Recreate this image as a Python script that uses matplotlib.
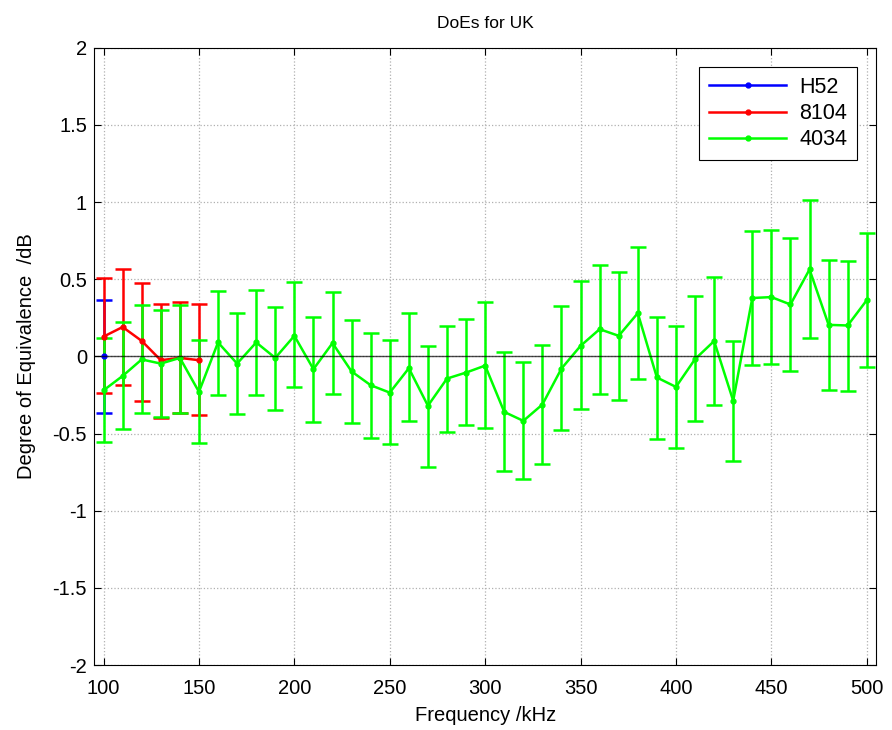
import matplotlib
matplotlib.use("Agg")
import matplotlib.pyplot as plt
from matplotlib.lines import Line2D
import numpy as np

plt.rcParams['font.family'] = ['Liberation Sans', 'DejaVu Sans']

# H52
f_h52 = [100]
d_h52 = [0.0]
u_h52 = [0.365]

# 8104
f_8104 = [100, 110, 120, 130, 140, 150]
d_8104 = [0.128, 0.19, 0.10, -0.025, -0.01, -0.025]
hi_8104 = [0.505, 0.565, 0.474, 0.34, 0.35, 0.34]
lo_8104 = [-0.24, -0.185, -0.29, -0.40, -0.37, -0.383]

# 4034
f_4034 = list(range(100, 501, 10))
d_4034 = [-0.22, -0.127, -0.02, -0.047, -0.01, -0.23, 0.09, -0.047, 0.09, -0.01,
          0.133, -0.083, 0.086, -0.098, -0.187, -0.235, -0.077, -0.32, -0.144, -0.105,
          -0.06, -0.36, -0.418, -0.312, -0.079, 0.068, 0.176, 0.133, 0.28, -0.137,
          -0.198, -0.018, 0.099, -0.288, 0.378, 0.384, 0.336, 0.563, 0.204, 0.20,
          0.364]
hi_4034 = [0.12, 0.22, 0.33, 0.30, 0.33, 0.107, 0.425, 0.284, 0.43, 0.317,
           0.48, 0.256, 0.42, 0.235, 0.15, 0.105, 0.278, 0.068, 0.196, 0.24,
           0.35, 0.025, -0.036, 0.075, 0.325, 0.485, 0.595, 0.548, 0.708, 0.256,
           0.196, 0.39, 0.514, 0.10, 0.81, 0.818, 0.77, 1.01, 0.626, 0.62,
           0.80]
lo_4034 = [-0.555, -0.47, -0.365, -0.39, -0.365, -0.56, -0.25, -0.375, -0.25, -0.35,
           -0.20, -0.425, -0.243, -0.43, -0.527, -0.57, -0.416, -0.716, -0.488, -0.447,
           -0.464, -0.74, -0.797, -0.70, -0.48, -0.34, -0.245, -0.284, -0.144, -0.537,
           -0.595, -0.42, -0.314, -0.678, -0.055, -0.049, -0.094, 0.12, -0.217, -0.222,
           -0.066]

colors = ['#0000ff', '#ff0000', '#00ff00']
names = ['H52', '8104', '4034']

fig = plt.figure(figsize=(8.92, 7.3), dpi=100)
ax = fig.add_axes([0.1054, 0.089, 0.877, 0.8457])

eb = dict(marker='.', markersize=7, lw=1.8, elinewidth=1.8, capsize=6, capthick=1.8)

ax.errorbar(f_h52, d_h52, yerr=[u_h52, u_h52], color=colors[0], **eb)

d = np.array(d_8104)
ax.errorbar(f_8104, d, yerr=[d - np.array(lo_8104), np.array(hi_8104) - d],
            color=colors[1], **eb)

d = np.array(d_4034)
ax.errorbar(f_4034, d, yerr=[d - np.array(lo_4034), np.array(hi_4034) - d],
            color=colors[2], **eb)

ax.axhline(0, color='black', lw=1, alpha=0.7, zorder=5)

ax.set_xlim(95, 505)
ax.set_ylim(-2, 2)
ax.set_xticks(np.arange(100, 501, 50))
ax.set_yticks(np.arange(-2, 2.01, 0.5))
ax.set_yticklabels(['-2', '-1.5', '-1', '-0.5', '0', '0.5', '1', '1.5', '2'])
ax.tick_params(direction='in', top=True, right=True, labelsize=14.5, length=5, pad=5)
ax.tick_params(axis='x', pad=10)
ax.grid(True, linestyle=':', color='#b0b0b0', lw=0.9)

ax.set_title('DoEs for UK', fontsize=12.5, pad=14)
ax.set_xlabel('Frequency /kHz', fontsize=14.5, labelpad=6)
ax.set_ylabel('Degree of Equivalence  /dB', fontsize=14.5, labelpad=12)

handles = [Line2D([], [], color=c, marker='.', markersize=7, lw=1.8) for c in colors]
leg = ax.legend(handles, names, loc='upper right', fontsize=15.5, fancybox=False,
                framealpha=1, edgecolor='black', handlelength=3.6,
                borderaxespad=0.9, labelspacing=0.25, handletextpad=0.6,
                borderpad=0.45)
leg.get_frame().set_linewidth(0.8)

fig.savefig('out.png', dpi=100)
